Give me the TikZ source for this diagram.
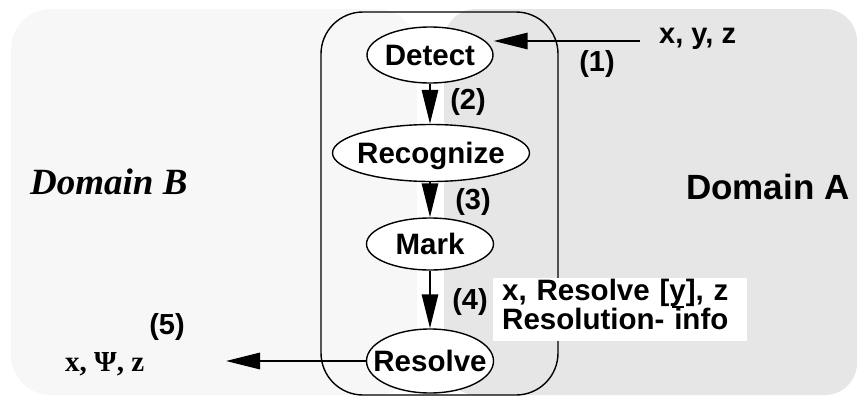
\documentclass[tikz,border=0pt]{standalone}
\usepackage{fontspec}
\setmainfont{Liberation Sans}
\newfontfamily\serifbold{Liberation Serif}
\usetikzlibrary{arrows.meta,shapes.geometric}
\definecolor{domB}{HTML}{F7F7F7}
\definecolor{domA}{HTML}{E6E6E6}
\begin{document}
\begin{tikzpicture}[x=1pt,y=-1pt,
  stage/.style={ellipse,draw,line width=1.4pt,fill=white,inner sep=0pt,
    text height=21pt,text depth=0pt,
    font=\fontsize{29.5}{29.5}\selectfont\bfseries},
  flow/.style={line width=1.5pt,-{Triangle[length=34pt,width=16.5pt]}},
  lbl/.style={font=\fontsize{29}{29}\selectfont\bfseries,inner sep=0pt},
  domainbox/.style={rounded corners=40pt}]
\useasboundingbox (0,0) rectangle (857,397);
% domains
\fill[domB,domainbox] (11,9) rectangle (417,395);
\fill[domA,rounded corners=32pt] (444,9) rectangle (857,395);
% container
\draw[line width=1.4pt,rounded corners=42pt] (321,12) rectangle (558,395);
% label box
\node[fill=white,anchor=north west,inner xsep=9pt,inner ysep=1pt,text width=236pt,align=left,
  font=\fontsize{29.5}{28}\selectfont\bfseries] (info) at (493,278)
  {x, Resolve [\makebox[0pt][l]{\hspace{2.5pt}\rule[-7pt]{12pt}{1.3pt}}y], z\\Resolution- info\rule[-10pt]{0pt}{10pt}};
% stages
\node[stage,minimum width=126pt,minimum height=56pt] (det) at (430,55) {\makebox[0pt]{Detect}};
\node[stage,minimum width=197pt,minimum height=57pt] (rec) at (431,153) {\makebox[0pt]{Recognize}};
\node[stage,minimum width=127pt,minimum height=52pt] (mark) at (430,244) {\makebox[0pt]{Mark}};
\node[stage,minimum width=127pt,minimum height=64pt] (res) at (430,361) {\makebox[0pt]{Resolve}};
% connectors
\coordinate (in1) at (640,41);
\coordinate (out5) at (226,361);
\draw[flow] (in1) -- (in1 -| det.east);
\draw[flow] (det.south) -- (det.south |- rec.north);
\draw[flow] (det.south |- rec.south) -- (det.south |- mark.north);
\draw[flow] (mark.south) -- (res.north);
\draw[flow] (res.west) -- (out5);
% labels
\node[lbl,anchor=base west] (t1) at (659,43) {x, y, z};
\node[lbl] (n1) at (597,64) {(1)};
\node[lbl] (n2) at (468,102) {(2)};
\node[lbl] (n3) at (473,202) {(3)};
\node[lbl] (n4) at (470,302) {(4)};
\node[lbl] (n5) at (167,327) {(5)};
\node[inner sep=0pt,anchor=base west,font=\serifbold\fontsize{29}{29}\selectfont\bfseries] (t5) at (65,371) {x, Ψ, z};
\node[inner sep=0pt,anchor=base west,font=\serifbold\fontsize{37}{37}\selectfont\bfseries\itshape] (db) at (30,194) {Domain B};
\node[inner sep=0pt,anchor=base west,font=\fontsize{35}{35}\selectfont\bfseries] (da) at (686,199) {Domain A};
\end{tikzpicture}
\end{document}
